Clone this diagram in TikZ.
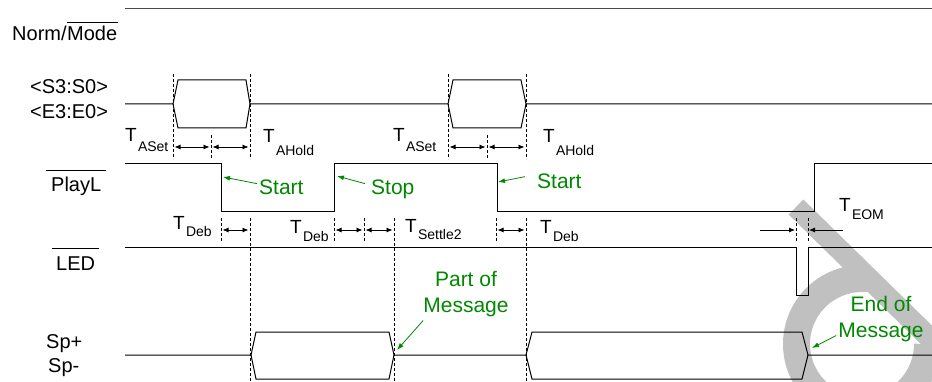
\documentclass[tikz,border=0pt]{standalone}
\usepackage{fontspec}
\setmainfont{Liberation Sans}
\usetikzlibrary{arrows.meta}
\definecolor{msggreen}{RGB}{0,136,0}
\definecolor{wmark}{RGB}{192,192,192}
\newcommand{\tsig}[2]{T\kern1.2pt\raisebox{-#2pt}{\fontsize{14}{14}\selectfont #1}}
\newcommand{\ovl}[3]{\vbox{\hrule height 0.8pt\kern#1pt\hbox{\kern#2pt#3\kern#2pt}}}

\begin{document}
\begin{tikzpicture}[
  x=1pt,y=-1pt,
  sig/.style={line width=1pt},
  guide/.style={dash pattern=on 3pt off 2pt,line width=0.7pt},
  dim/.style={{Latex[length=6pt,width=5pt]}-{Latex[length=6pt,width=5pt]},line width=0.8pt,shorten >=1.5pt,shorten <=1.5pt},
  half/.style={-{Latex[length=6pt,width=5pt]},line width=0.8pt,shorten >=1pt},
  lbl/.style={inner sep=0pt,anchor=base west,font=\fontsize{20}{24}\selectfont},
  tlbl/.style={inner sep=0pt,anchor=base west,font=\fontsize{19}{22}\selectfont},
  note/.style={inner sep=0pt,align=center,text=msggreen,font=\fontsize{21}{26}\selectfont},
  callout/.style={-{Latex[length=7pt,width=5pt]},msggreen,line width=0.8pt},
]
\useasboundingbox (0,0) rectangle (932,382);
% ---- watermark (behind everything) ----
\begin{scope}
\clip (0,0) rectangle (932,382);
\draw[wmark,line width=21pt] (796,207) -- ++(200,196);
\draw[wmark,line width=27pt] (862,344) ++(0:65.5) arc[start angle=0,end angle=275,radius=65.5];
\end{scope}
% ---- signal names ----
\node[lbl] (norm) at (12,41) {Norm/\ovl{4}{0.5}{Mode}};
\node[lbl] (addrs) at (30,94) {<S3:S0>};
\node[lbl] (addre) at (30,119) {<E3:E0>};
\node[lbl] (playl) at (46,192) {\ovl{7}{5}{PlayL}};
\node[lbl] (led) at (52,270) {\ovl{7}{4}{LED}};
\node[lbl] (spp) at (46,348) {Sp+};
\node[lbl] (spm) at (48,372) {Sp-};
% ---- waveforms ----
\draw[sig,black!70] (125,9) -- (932,9);
\draw[sig] (125,104) -- (173,104) -- (178,80) -- (246,80) -- (250,104) -- (448,104) -- (453,80) -- (521,80) -- (526,104) -- (932,104);
\draw[sig] (173,104) -- (178,128) -- (246,128) -- (250,104);
\draw[sig] (448,104) -- (453,128) -- (521,128) -- (526,104);
\draw[sig] (125,164) -- (221,164) -- (221,212) -- (334,212) -- (334,164) -- (497,164) -- (497,212) -- (814,212) -- (814,164) -- (932,164);
\draw[sig] (125,248) -- (796,248) -- (796,295) -- (808,295) -- (808,248) -- (932,248);
\draw[sig] (125,355) -- (251,355) -- (256,332) -- (389,332) -- (394,355) -- (526,355) -- (532,332) -- (802,332) -- (808,355) -- (932,355);
\draw[sig] (251,355) -- (256,379) -- (389,379) -- (394,355);
\draw[sig] (526,355) -- (532,379) -- (802,379) -- (808,355);
% ---- dashed guides ----
\foreach \x in {173,250,448,526} \draw[guide] (\x,74) -- (\x,159);
\foreach \x in {211,487} \draw[guide] (\x,135) -- (\x,159);
\foreach \x in {221,334,364,496,796,808} \draw[guide] (\x,218) -- (\x,242);
\foreach \x in {250,394,526} \draw[guide] (\x,218) -- (\x,382);
% ---- timing marks ----
\coordinate (sa1) at (173,147); \coordinate (sb1) at (211,147); \coordinate (sc1) at (250,147);
\coordinate (sa2) at (448,147); \coordinate (sb2) at (487,147); \coordinate (sc2) at (526,147);
\draw[dim] (sa1) -- (sb1); \draw[dim] (sb1) -- (sc1);
\draw[dim] (sa2) -- (sb2); \draw[dim] (sb2) -- (sc2);
\coordinate (da) at (221,230); \coordinate (db) at (250,230);
\coordinate (dc) at (334,230); \coordinate (dd) at (364,230); \coordinate (de) at (394,230);
\coordinate (df) at (496,230); \coordinate (dg) at (526,230);
\draw[dim] (da) -- (db);
\draw[dim] (dc) -- (dd); \draw[dim] (dd) -- (de);
\draw[dim] (df) -- (dg);
\coordinate (eoml) at (760,230); \coordinate (eoma) at (796,230);
\coordinate (eomb) at (808,230); \coordinate (eomr) at (843,230);
\draw[half] (eoml) -- (eoma);
\draw[half] (eomr) -- (eomb);
\node[tlbl] (taset1) at (125,142) {\tsig{ASet}{10}};
\node[tlbl] (tahold1) at (263,143) {\tsig{AHold}{13}};
\node[tlbl] (taset2) at (393,142) {\tsig{ASet}{10}};
\node[tlbl] (tahold2) at (543,143) {\tsig{AHold}{13}};
\node[tlbl] (tdeb1) at (173,230) {\tsig{Deb}{7}};
\node[tlbl] (tdeb2) at (290,234) {\tsig{Deb}{8}};
\node[tlbl] (tsettle) at (405,233) {\tsig{Settle2}{7}};
\node[tlbl] (tdeb3) at (540,234) {\tsig{Deb}{8}};
\node[tlbl] (teom) at (839,212) {\tsig{EOM}{8}};
% ---- green call-outs ----
\node[note,anchor=base west] (start1) at (259,195) {Start};
\node[note,anchor=base west] (stop) at (371,195) {Stop};
\node[note,anchor=base west] (start2) at (537,189) {Start};
\node[note] (partmsg) at (466,294.5) {Part of\\Message};
\node[note] (endmsg) at (881,319.5) {End of\\Message};
\coordinate (fall1) at (223,177);
\coordinate (rise1) at (337,176);
\coordinate (fall2) at (498,182);
\coordinate (sp1end) at (397,350);
\coordinate (sp2end) at (812,348);
\draw[callout] ([shift={(-2,3.5)}]start1.north west) -- (fall1);
\draw[callout] ([shift={(-6,3.5)}]stop.north west) -- (rise1);
\draw[callout] ([shift={(-12,2.5)}]start2.north west) -- (fall2);
\draw[callout] ([shift={(0,3)}]partmsg.south west) -- (sp1end);
\draw[callout] ([shift={(-2,-7)}]endmsg.south west) -- (sp2end);
\end{tikzpicture}
\end{document}
